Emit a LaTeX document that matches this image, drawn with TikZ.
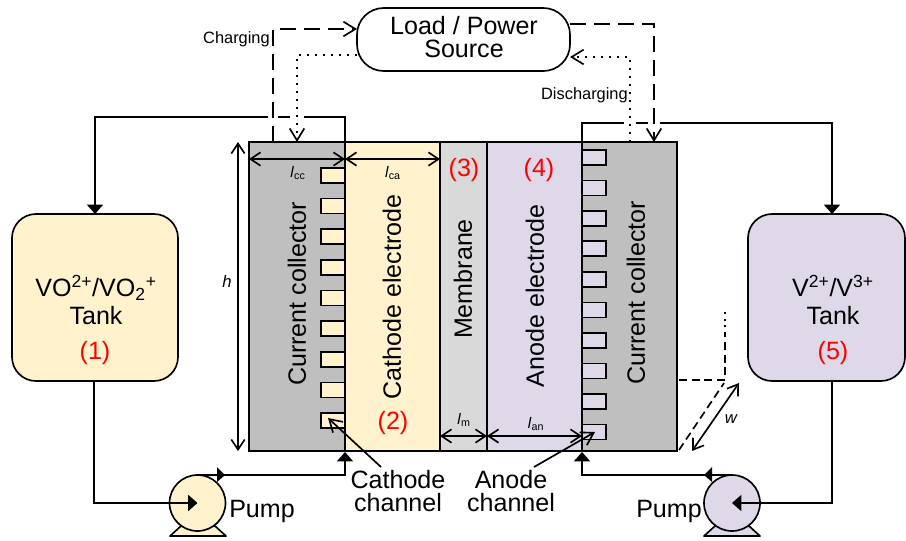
\documentclass[tikz,border=0pt]{standalone}
\usepackage{fontspec}
\setmainfont{Liberation Sans}
\usetikzlibrary{arrows.meta}
\newcommand{\bigtxt}{\fontsize{18.8}{17}\selectfont}
\newcommand{\midtxt}{\fontsize{12.3}{14}\selectfont}
\newcommand{\smalltxt}{\fontsize{11.5}{12}\selectfont}
\newcommand{\symtxt}{\fontsize{12.5}{14}\selectfont\itshape}
\definecolor{yel}{HTML}{FFF2CC}
\definecolor{pur}{HTML}{DED8E8}
\definecolor{gra}{HTML}{BFBFBF}
\definecolor{mem}{HTML}{D9D9D9}
\definecolor{redt}{HTML}{FF0000}
\tikzset{
  x=0.75pt,y=-0.75pt,
  lw/.style={line width=1.25pt,black},
  sized/.style 2 args={minimum width=#1*0.75pt,minimum height=#2*0.75pt,inner sep=0pt,outer sep=0pt,anchor=north west,rectangle},
  block/.style={draw,lw},
  label big/.style={font=\bigtxt,align=center,inner sep=0pt},
  label red/.style={font=\bigtxt,text=redt,inner sep=0pt},
  label mid/.style={font=\midtxt,inner sep=0pt},
  label small/.style={font=\smalltxt,inner sep=0pt},
  open/.style={-{Straight Barb[length=9pt,width=11pt,line width=1.25pt]}},
  opentwo/.style={{Straight Barb[length=7.5pt,width=10pt,line width=1.25pt]}-{Straight Barb[length=7.5pt,width=10pt,line width=1.25pt]}},
  solidtip/.style={-{Triangle[length=7pt,width=12pt]}},
  dashline/.style={lw,dash pattern=on 12pt off 6pt},
  dotline/.style={black,line width=1.6pt,dash pattern=on 1.6pt off 4.4pt},
  shortdash/.style={lw,dash pattern=on 6pt off 3.5pt},
  halo/.style={white,line width=4pt},
}
\begin{document}
\begin{tikzpicture}
\useasboundingbox (0,0) rectangle (906,540);
% body
\node[block,sized={96}{309},fill=gra] (ccl) at (249,142) {};
\node[block,sized={95}{309},fill=yel] (cat) at (345,142) {};
\node[block,sized={47}{309},fill=mem] (mb) at (440,142) {};
\node[block,sized={95}{309},fill=pur] (ano) at (487,142) {};
\node[block,sized={95}{309},fill=gra] (ccr) at (582,142) {};
% channels
\foreach \i/\yy in {1/168,2/198.5,3/229,4/260,5/290.5,6/321,7/352,8/382.5,9/413}
  \node[block,sized={24}{15},fill=yel] (cl\i) at (321,\yy) {};
\foreach \i/\yy in {1/150,2/180.5,3/211,4/241,5/272,6/302.5,7/333,8/363.5,9/394,10/424.5}
  \node[block,sized={24}{15},fill=pur] (cr\i) at (582,\yy) {};
% tanks and source
\node[block,sized={166}{167},fill=yel,rounded corners=18pt] (tl) at (12,214) {};
\node[block,sized={157}{167},fill=pur,rounded corners=18pt] (tr) at (748,214) {};
\node[block,sized={213}{63},fill=white,rounded corners=20pt] (src) at (357,8) {};
\node[label big] (srct) at (464,37) {Load / Power\\Source};
\node[label big] (tlt) at (96,300) {VO\textsuperscript{2+}/VO\textsubscript{2}\textsuperscript{+}\\[4pt]Tank};
\node[label big] (trt) at (833,300) {V\textsuperscript{2+}/V\textsuperscript{3+}\\[4pt]Tank};
\node[label red] (n1) at (95,353) {(1)};
\node[label red] (n2) at (393,423) {(2)};
\node[label red] (n3) at (464,170) {(3)};
\node[label red] (n4) at (539,170) {(4)};
\node[label red] (n5) at (833,353) {(5)};
\node[label big,rotate=90] (t1) at (297,294) {Current collector};
\node[label big,rotate=90] (t2) at (392,297) {Cathode electrode};
\node[label big,rotate=90] (t3) at (463,279) {Membrane};
\node[label big,rotate=90] (t4) at (535,296) {Anode electrode};
\node[label big,rotate=90] (t5) at (636,293) {Current collector};
% pumps
\coordinate (pbl1) at (170,536);\coordinate (pbl2) at (226,536);
\coordinate (pbr1) at (704,536);\coordinate (pbr2) at (760,536);
\draw[lw,fill=yel,line join=round] (pbl1) -- (181,526) -- (215,526) -- (pbl2) -- cycle;
\draw[lw,fill=pur,line join=round] (pbr1) -- (715,526) -- (749,526) -- (pbr2) -- cycle;
\node[draw,lw,circle,fill=yel,minimum size=56*0.75pt,inner sep=0pt,outer sep=0pt] (pl) at (197.5,503) {};
\node[draw,lw,circle,fill=pur,minimum size=56*0.75pt,inner sep=0pt,outer sep=0pt] (pr) at (732,503) {};
\node[label big] (pumpl) at (262,511) {Pump};
\node[label big] (pumpr) at (669,511) {Pump};
% solid flow
\coordinate (a1) at (345,117);\coordinate (a2) at (95,117);
\coordinate (b1) at (582,123);\coordinate (b2) at (832,123);
\draw[lw,solidtip] (ccl.north east) -- (a1) -- (a2) -- (tl.north -| a2);
\draw[lw,solidtip] (ccr.north west) -- (b1) -- (b2) -- (tr.north -| b2);
\coordinate (c1) at (94,503);
\draw[lw,solidtip] (tl.south -| c1) -- (c1) -- (pl.center);
\coordinate (d1) at (832,503);
\draw[lw,solidtip] (tr.south -| d1) -- (d1) -- (pr.center);
\coordinate (e1) at (345,475);\coordinate (f1) at (582,475);
\coordinate (e0) at (345,452);\coordinate (f0) at (582,452);
\draw[lw,solidtip] (pl.north) -- (e1) -- (e0);
\draw[lw,solidtip] (pr.north) -- (f1) -- (f0);
\draw[draw=none,fill=black] (217,467) -- (225,475) -- (217,482) -- cycle;
\draw[draw=none,fill=black] (712,467) -- (704,475) -- (712,482) -- cycle;
% halos at crossings
\draw[halo] (268,117) -- (278,117);
\draw[halo] (290,117) -- (304,117);
\draw[halo] (624,123) -- (636,123);
\draw[halo] (648,123) -- (660,123);
% electrical paths
\coordinate (h1) at (273,142);\coordinate (h2) at (273,29);\coordinate (h3) at (357,29);
\coordinate (i1) at (357,55);\coordinate (i2) at (297,55);\coordinate (i3) at (297,142);
\coordinate (j1) at (570,24);\coordinate (j2) at (654,24);\coordinate (j3) at (654,142);
\coordinate (k1) at (630,142);\coordinate (k2) at (630,57);\coordinate (k3) at (570,57);
\draw[dashline,open] (h1) -- (h2) -- (h3);
\draw[dotline,open] (i1) -- (i2) -- (i3);
\draw[dashline,open] (j1) -- (j2) -- (j3);
\draw[dotline,open] (k1) -- (k2) -- (k3);
\node[label mid,anchor=east] (chg) at (270,39) {Charging};
\node[label mid,anchor=east] (dis) at (628,95) {Discharging};
% dimensions
\coordinate (hh1) at (238,142);\coordinate (hh2) at (238,451);
\draw[lw,opentwo] (hh1) -- (hh2);
\node[font=\symtxt,inner sep=0pt] (hl) at (227,281) {h};
\coordinate (y1) at (249,159);\coordinate (y2) at (345,159);\coordinate (y3) at (440,159);
\draw[lw,opentwo] (y1) -- (y2);
\draw[lw,opentwo] (y2) -- (y3);
\coordinate (z1) at (440,436);\coordinate (z2) at (487,436);\coordinate (z3) at (582,436);
\draw[lw,opentwo] (z1) -- (z2);
\draw[lw,opentwo] (z2) -- (z3);
\node[label small] (lcc) at (298,173) {\textit{l}\textsubscript{cc}};
\node[label small] (lca) at (393,173) {\textit{l}\textsubscript{ca}};
\node[label small] (lm) at (464,420) {\textit{l}\textsubscript{m}};
\node[label small] (lan) at (536,424) {\textit{l}\textsubscript{an}};
% depth
\coordinate (w1) at (739,383);\coordinate (w2) at (692,451);
\draw[lw,opentwo] (w1) -- (w2);
\node[font=\symtxt,inner sep=0pt] (wl) at (731,419) {w};
\coordinate (q1) at (679,450);\coordinate (q2) at (724,383);\coordinate (q3) at (679,380);\coordinate (q4) at (725,380);\coordinate (q5) at (725,334);\coordinate (q6) at (725,308);
\draw[shortdash] (q1) -- (q2);
\draw[shortdash] (q3) -- (q4) -- (q5);
\draw[black,line width=0.9pt,dash pattern=on 1.5pt off 3.5pt] (q5) -- (q6);
% channel leaders
\node[label big] (catht) at (398,491) {Cathode\\channel};
\node[label big] (anot) at (511,491) {Anode\\channel};
\coordinate (m1) at (381,467);\coordinate (m2) at (328,418);
\coordinate (n01) at (534,467);\coordinate (n02) at (595,432);
\draw[lw,open] (m1) -- (m2);
\draw[lw,open] (n01) -- (n02);
\end{tikzpicture}
\end{document}
